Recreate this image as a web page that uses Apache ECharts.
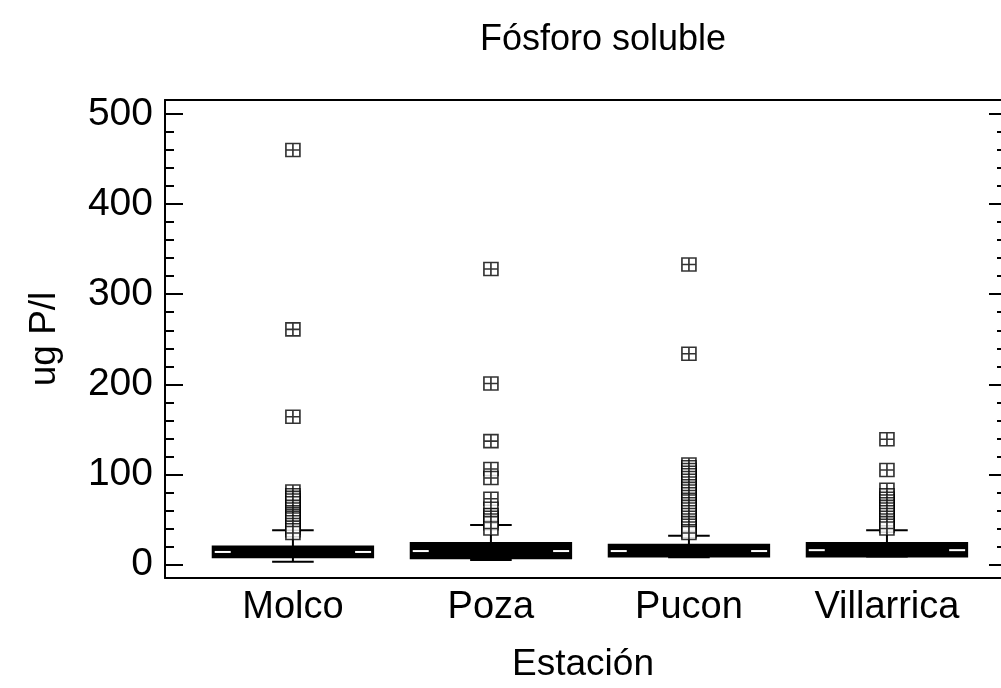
<!DOCTYPE html>
<html>
<head>
<meta charset="utf-8">
<script src="https://cdn.jsdelivr.net/npm/echarts@6/dist/echarts.min.js"></script>
<style>html,body{margin:0;padding:0;background:#fff}#c{width:1001px;height:688px}</style>
</head>
<body>
<div id="c"></div>
<script>
// ---- data ----
const stations = ['Molco', 'Poza', 'Pucon', 'Villarrica'];
// [low whisker, Q1, median, Q3, high whisker]
const boxMolco = [3, 8, 14, 20, 38];
const boxPoza = [5, 7, 15, 24, 44];
const boxPucon = [8, 9, 15, 22, 32];
const boxVillarrica = [9, 9, 16, 24, 38];
const outMolco = [460, 261, 164, 81, 77, 74, 71, 68, 64, 61, 58, 56, 54, 52, 50, 47, 44, 41, 38, 35];
const outPoza = [328, 201, 137, 106, 96, 73, 62, 55, 52, 49, 46, 40];
const outPucon = [333, 234, 111, 108, 105, 102, 99, 96, 93, 90, 87, 84, 81, 78, 75, 72, 70, 67, 64, 61, 58, 55, 52, 49, 46, 43, 40, 37, 35];
const outVillarrica = [139, 105, 83, 77, 73, 70, 67, 64, 61, 58, 55, 52, 49, 46, 43, 40];
const yMajorTicks = [0, 100, 200, 300, 400, 500];
const yMinorTicks = [20, 40, 60, 80, 120, 140, 160, 180, 220, 240, 260, 280, 320, 340, 360, 380, 420, 440, 460, 480];
const xPositions = [1, 2, 3, 4];

// ---- build ----
const boxes = [boxMolco, boxPoza, boxPucon, boxVillarrica];
const outs = [outMolco, outPoza, outPucon, outVillarrica];
const boxData = boxes.map((b, i) => [xPositions[i]].concat(b));
const outData = [];
outs.forEach((arr, i) => arr.forEach(v => outData.push([xPositions[i], v])));

const FONT = 'Liberation Sans, Arial, sans-serif';
const yMin = -14.9, yMax = 515.5;
const xMin = 0.354, xMax = 4.576;

function yAxisBase(pos, ticks, len, labels) {
  return {
    type: 'value', position: pos, min: yMin, max: yMax,
    axisLine: { show: false },
    splitLine: { show: false },
    axisTick: { show: true, inside: true, length: len, customValues: ticks,
      lineStyle: { color: '#000', width: 2 } },
    axisLabel: labels ? { show: true, customValues: ticks, color: '#000', fontSize: 39,
      fontFamily: FONT, margin: 12 } : { show: false }
  };
}

const yMain = yAxisBase('left', yMajorTicks, 18, true);
yMain.axisLine = { show: true, onZero: false, lineStyle: { color: '#000', width: 2 } };
yMain.name = 'ug P/l';
yMain.nameLocation = 'middle';
yMain.nameRotate = 90;
yMain.nameGap = 102;
yMain.nameTextStyle = { color: '#000', fontSize: 37, fontFamily: FONT };

const option = {
  backgroundColor: '#fff',
  animation: false,
  title: {
    text: 'Fósforo soluble', left: 475, top: 17,
    textStyle: { color: '#000', fontSize: 36, fontWeight: 'normal', fontFamily: FONT }
  },
  grid: { left: 165, right: 0, top: 100, bottom: 108, containLabel: false },
  xAxis: [{
    type: 'value', position: 'bottom', min: xMin, max: xMax,
    axisLine: { show: true, onZero: false, lineStyle: { color: '#000', width: 2 } },
    axisTick: { show: false },
    splitLine: { show: false },
    axisLabel: { show: true, customValues: xPositions, color: '#000', fontSize: 38, fontFamily: FONT,
      margin: 11, formatter: v => stations[Math.round(v) - 1] || '' },
    name: 'Estación', nameLocation: 'middle', nameGap: 68,
    nameTextStyle: { color: '#000', fontSize: 37, fontFamily: FONT }
  }, {
    type: 'value', position: 'top', min: xMin, max: xMax,
    axisLine: { show: true, onZero: false, lineStyle: { color: '#000', width: 2 } },
    axisTick: { show: false }, axisLabel: { show: false }, splitLine: { show: false }
  }],
  yAxis: [
    yMain,
    yAxisBase('left', yMinorTicks, 9, false),
    yAxisBase('right', yMajorTicks, 12, false),
    yAxisBase('right', yMinorTicks, 4, false)
  ],
  series: [{
    type: 'custom',
    xAxisIndex: 0, yAxisIndex: 0,
    encode: { x: 0, y: [1, 2, 3, 4, 5] },
    data: boxData,
    renderItem: function (params, api) {
      const x = api.value(0);
      const low = api.coord([x, api.value(1)]);
      const q1 = api.coord([x, api.value(2)]);
      const med = api.coord([x, api.value(3)]);
      const q3 = api.coord([x, api.value(4)]);
      const high = api.coord([x, api.value(5)]);
      const bw = api.size([0.81, 0])[0];
      const cw = api.size([0.21, 0])[0];
      const cx = q1[0];
      const ls = { stroke: '#000', lineWidth: 2 };
      const seg = Math.min(16, bw * 0.1);
      return {
        type: 'group',
        children: [
          { type: 'line', shape: { x1: cx, y1: q3[1], x2: cx, y2: high[1] }, style: ls },
          { type: 'line', shape: { x1: cx - cw / 2, y1: high[1], x2: cx + cw / 2, y2: high[1] }, style: ls },
          { type: 'line', shape: { x1: cx, y1: q1[1], x2: cx, y2: low[1] }, style: ls },
          { type: 'line', shape: { x1: cx - cw / 2, y1: low[1], x2: cx + cw / 2, y2: low[1] }, style: ls },
          { type: 'rect', shape: { x: cx - bw / 2, y: q3[1], width: bw, height: q1[1] - q3[1] },
            style: { fill: '#000', stroke: '#000', lineWidth: 2 } },
          { type: 'line', shape: { x1: cx - bw / 2 + 2, y1: med[1], x2: cx - bw / 2 + 2 + seg, y2: med[1] },
            style: { stroke: '#fff', lineWidth: 2 } },
          { type: 'line', shape: { x1: cx + bw / 2 - 2 - seg, y1: med[1], x2: cx + bw / 2 - 2, y2: med[1] },
            style: { stroke: '#fff', lineWidth: 2 } }
        ]
      };
    }
  }, {
    type: 'scatter',
    xAxisIndex: 0, yAxisIndex: 0,
    data: outData,
    symbol: 'path://M0 0H10V10H0ZM5 0V10M0 5H10',
    symbolSize: [14, 13],
    itemStyle: { color: 'rgba(255,255,255,1)', borderColor: '#000', borderWidth: 1.6 },
    z: 5
  }]
};

const chart = echarts.init(document.getElementById('c'), null, { renderer: 'canvas' });
chart.setOption(option);
</script>
</body>
</html>
